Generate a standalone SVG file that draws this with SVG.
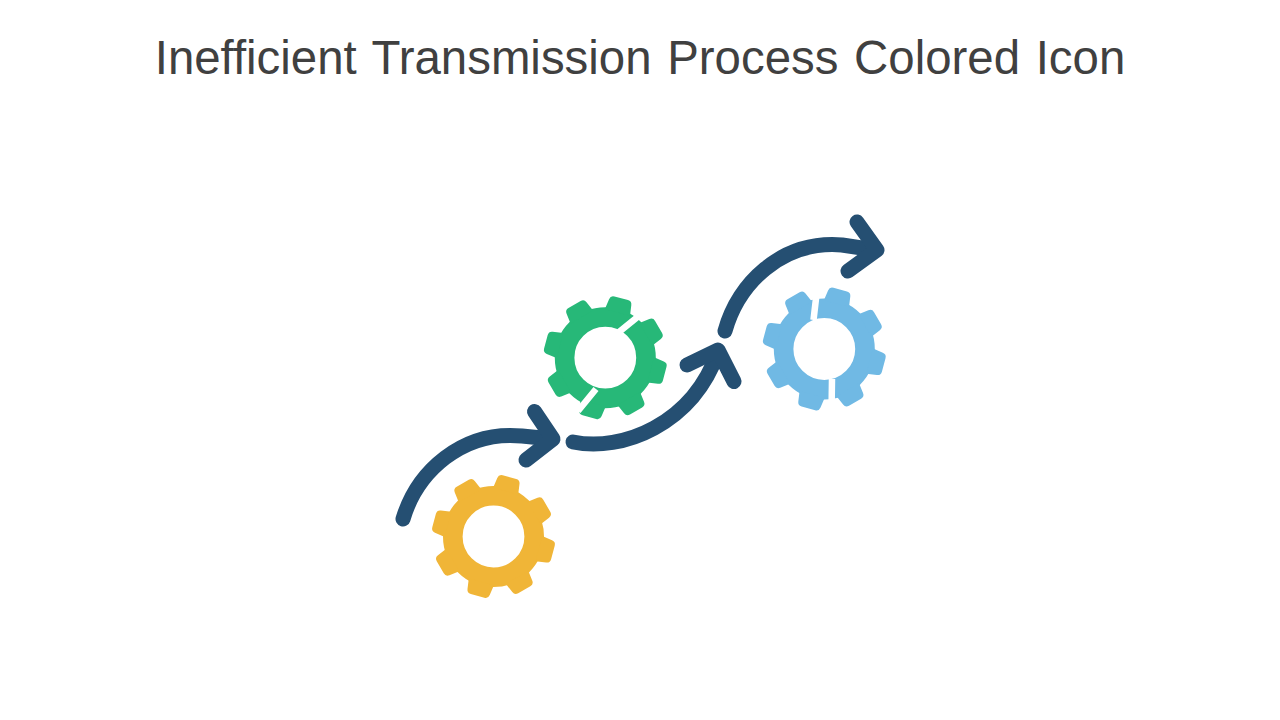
<svg xmlns="http://www.w3.org/2000/svg" xmlns:xlink="http://www.w3.org/1999/xlink" width="1280" height="720" viewBox="0 0 1280 720">
<style>
.title{font-family:"Liberation Sans",Arial,sans-serif;font-size:47.4px;word-spacing:2.5px;fill:#404040}
.arrow{fill:none;stroke:#254f72;stroke-width:15;stroke-linecap:round;stroke-linejoin:round}
.gap{stroke:#fff;stroke-width:6.5;fill:none}
.yellow{fill:#f0b537;stroke:#f0b537}
.green{fill:#27b878;stroke:#27b878}
.blue{fill:#70b9e4;stroke:#70b9e4}
</style>
<defs>
<path id="tooth" d="M-13,-47 L-11.5,-57.5 Q-11,-61.5 -7,-61.5 L7,-61.5 Q11,-61.5 11.5,-57.5 L13,-47Z" stroke="none"/>
<g id="gear">
<circle r="40.7" fill="none" stroke-width="19.6"/>
<g stroke="none">
<use xlink:href="#tooth" transform="rotate(15)"/>
<use xlink:href="#tooth" transform="rotate(60)"/>
<use xlink:href="#tooth" transform="rotate(105)"/>
<use xlink:href="#tooth" transform="rotate(150)"/>
<use xlink:href="#tooth" transform="rotate(195)"/>
<use xlink:href="#tooth" transform="rotate(240)"/>
<use xlink:href="#tooth" transform="rotate(285)"/>
<use xlink:href="#tooth" transform="rotate(330)"/>
</g>
</g>
</defs>
<rect width="1280" height="720" fill="#fff"/>
<text id="title" class="title" x="640" y="74" text-anchor="middle">Inefficient Transmission Process Colored Icon</text>
<g id="gear-yellow" class="yellow"><use xlink:href="#gear" x="493.5" y="536.5"/></g>
<g id="gear-green" class="green"><use xlink:href="#gear" x="605.3" y="357.7"/>
<path class="gap" d="M619,332 L640,315 M596,389 L578,411"/></g>
<g id="gear-blue" class="blue"><use xlink:href="#gear" x="824.3" y="349"/>
<path class="gap" d="M817,290 L813.5,320 M832,379 L831.5,412"/></g>
<g id="connectors">
<path class="arrow" d="M403,519 C417,472 462,430 522,436 L552,439"/>
<path class="arrow" d="M534.5,411.5 L553,439 L526,460"/>
<path class="arrow" d="M573,442 C622,452 692,425 718,352"/>
<path class="arrow" d="M687,365 L718,350 L734,381.5"/>
<path class="arrow" d="M725,331 C738,285 780,240 842,245 L875,250"/>
<path class="arrow" d="M857,222 L877,250 L848,271"/>
</g>
</svg>
